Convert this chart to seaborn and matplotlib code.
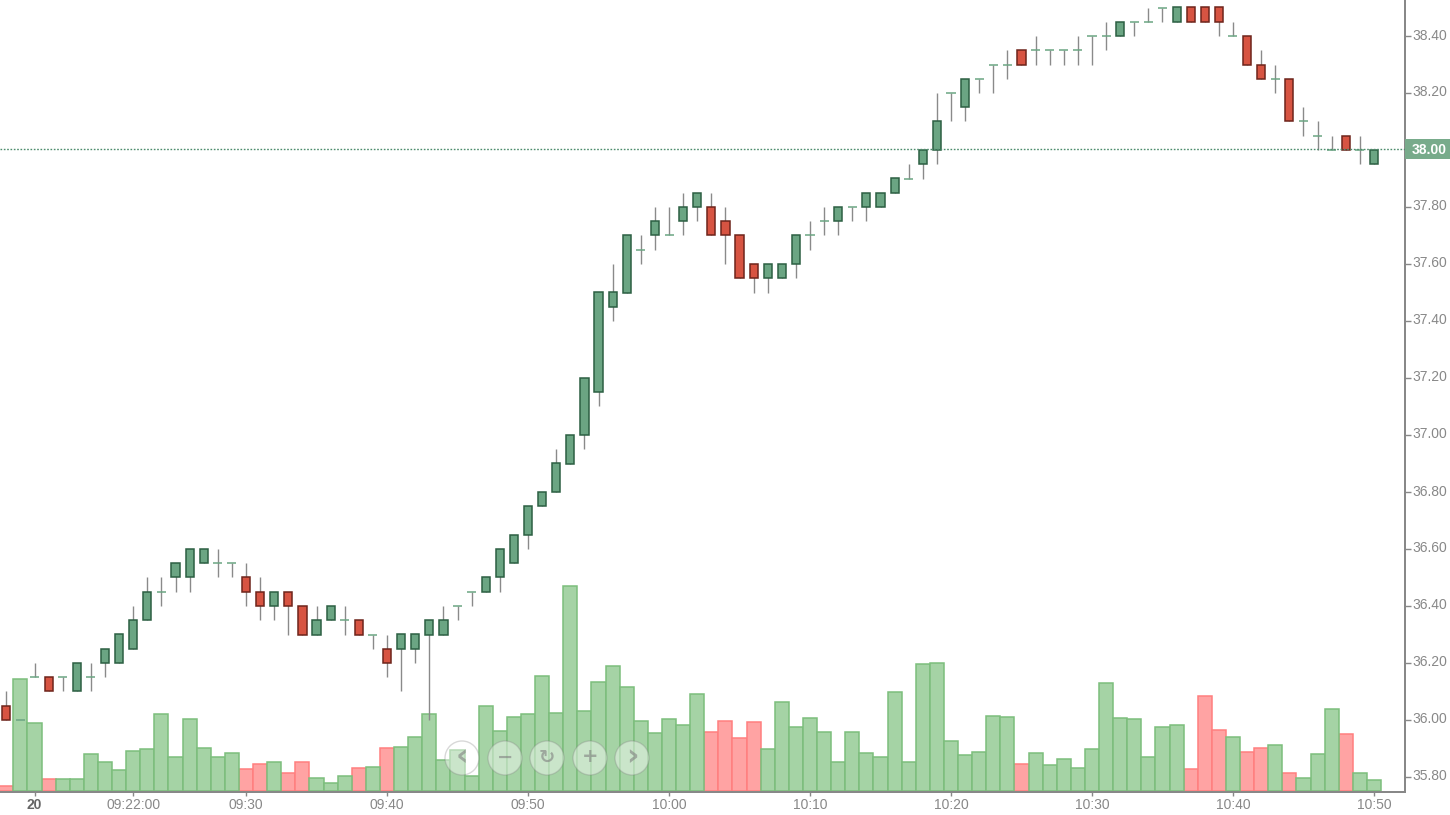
import matplotlib
matplotlib.use("Agg")
import matplotlib.pyplot as plt
from matplotlib.patches import Circle, Rectangle
from matplotlib.transforms import ScaledTranslation
import numpy as np
import pandas as pd
import seaborn as sns

# minutes since 09:00, one bar per minute (09:13 - 10:50)
minutes = np.arange(13, 111)

opens = [36.05, 36.00, 36.15, 36.15, 36.15, 36.10, 36.15, 36.20, 36.20, 36.25,
         36.35, 36.45, 36.50, 36.50, 36.55, 36.55, 36.55, 36.50, 36.45, 36.40,
         36.45, 36.40, 36.30, 36.35, 36.35, 36.35, 36.30, 36.25, 36.25, 36.25,
         36.30, 36.30, 36.40, 36.45, 36.45, 36.50, 36.55, 36.65, 36.75, 36.80,
         36.90, 37.00, 37.15, 37.45, 37.50, 37.65, 37.70, 37.70, 37.75, 37.80,
         37.80, 37.75, 37.70, 37.60, 37.55, 37.55, 37.60, 37.70, 37.75, 37.75,
         37.80, 37.80, 37.80, 37.85, 37.90, 37.95, 38.00, 38.20, 38.15, 38.25,
         38.30, 38.30, 38.35, 38.35, 38.35, 38.35, 38.35, 38.40, 38.40, 38.40,
         38.45, 38.45, 38.50, 38.45, 38.50, 38.50, 38.50, 38.40, 38.40, 38.30,
         38.25, 38.25, 38.10, 38.05, 38.00, 38.05, 38.00, 37.95]
highs = [36.10, 36.00, 36.20, 36.15, 36.15, 36.20, 36.20, 36.25, 36.30, 36.40,
         36.50, 36.50, 36.55, 36.60, 36.60, 36.60, 36.55, 36.55, 36.50, 36.45,
         36.45, 36.40, 36.40, 36.40, 36.40, 36.35, 36.30, 36.30, 36.30, 36.30,
         36.35, 36.40, 36.40, 36.45, 36.50, 36.60, 36.65, 36.75, 36.80, 36.95,
         37.00, 37.20, 37.50, 37.60, 37.70, 37.70, 37.80, 37.80, 37.85, 37.85,
         37.85, 37.80, 37.70, 37.60, 37.60, 37.60, 37.70, 37.75, 37.80, 37.80,
         37.80, 37.85, 37.85, 37.90, 37.95, 38.00, 38.20, 38.20, 38.25, 38.25,
         38.30, 38.35, 38.35, 38.40, 38.35, 38.35, 38.40, 38.40, 38.45, 38.45,
         38.45, 38.50, 38.50, 38.50, 38.50, 38.50, 38.50, 38.45, 38.40, 38.35,
         38.30, 38.25, 38.15, 38.10, 38.05, 38.05, 38.05, 38.00]
lows = [36.00, 36.00, 36.15, 36.10, 36.10, 36.10, 36.10, 36.15, 36.20, 36.25,
        36.35, 36.40, 36.45, 36.45, 36.55, 36.50, 36.50, 36.40, 36.35, 36.35,
        36.30, 36.30, 36.30, 36.35, 36.30, 36.30, 36.25, 36.15, 36.10, 36.20,
        36.00, 36.30, 36.35, 36.40, 36.45, 36.45, 36.55, 36.60, 36.75, 36.80,
        36.90, 36.95, 37.10, 37.40, 37.50, 37.60, 37.65, 37.70, 37.70, 37.75,
        37.70, 37.60, 37.55, 37.50, 37.50, 37.55, 37.55, 37.65, 37.70, 37.70,
        37.75, 37.75, 37.80, 37.85, 37.90, 37.90, 37.95, 38.10, 38.10, 38.20,
        38.20, 38.25, 38.30, 38.30, 38.30, 38.30, 38.30, 38.30, 38.35, 38.40,
        38.40, 38.45, 38.45, 38.45, 38.45, 38.45, 38.40, 38.40, 38.30, 38.25,
        38.20, 38.10, 38.05, 38.00, 38.00, 38.00, 37.95, 37.95]
closes = [36.00, 36.00, 36.15, 36.10, 36.15, 36.20, 36.15, 36.25, 36.30, 36.35,
          36.45, 36.45, 36.55, 36.60, 36.60, 36.55, 36.55, 36.45, 36.40, 36.45,
          36.40, 36.30, 36.35, 36.40, 36.35, 36.30, 36.30, 36.20, 36.30, 36.30,
          36.35, 36.35, 36.40, 36.45, 36.50, 36.60, 36.65, 36.75, 36.80, 36.90,
          37.00, 37.20, 37.50, 37.50, 37.70, 37.65, 37.75, 37.70, 37.80, 37.85,
          37.70, 37.70, 37.55, 37.55, 37.60, 37.60, 37.70, 37.70, 37.75, 37.80,
          37.80, 37.85, 37.85, 37.90, 37.90, 38.00, 38.10, 38.20, 38.25, 38.25,
          38.30, 38.30, 38.30, 38.35, 38.35, 38.35, 38.35, 38.40, 38.40, 38.45,
          38.45, 38.45, 38.50, 38.50, 38.45, 38.45, 38.45, 38.40, 38.30, 38.25,
          38.25, 38.10, 38.10, 38.05, 38.00, 38.00, 38.00, 38.00]
volumes = [5, 112, 68, 12, 12, 12, 37, 29, 21, 40,
           42, 77, 34, 72, 43, 34, 38, 22, 27, 29,
           18, 29, 13, 8, 15, 23, 24, 43, 44, 54,
           77, 31, 41, 15, 85, 60, 74, 77, 115, 78,
           205, 80, 109, 125, 104, 70, 58, 72, 66, 97,
           59, 70, 53, 69, 42, 89, 64, 73, 59, 29,
           59, 38, 34, 99, 29, 127, 128, 50, 36, 39,
           75, 74, 27, 38, 26, 32, 23, 42, 108, 73,
           72, 34, 64, 66, 22, 95, 61, 54, 39, 43,
           46, 18, 13, 37, 82, 57, 18, 11]

last_price = 38.00
price_ticks = [35.80, 36.00, 36.20, 36.40, 36.60, 36.80, 37.00, 37.20,
               37.40, 37.60, 37.80, 38.00, 38.20, 38.40]
time_ticks = [15, 22, 30, 40, 50, 60, 70, 80, 90, 100, 110]
time_labels = ["20", "09:22:00", "09:30", "09:40", "09:50", "10:00",
               "10:10", "10:20", "10:30", "10:40", "10:50"]
nav_glyphs = ["\u2039", "\u2212", "\u21bb", "+", "\u203a"]

UP, UP_EDGE = "#6ba583", "#2c5f43"
DOWN, DOWN_EDGE = "#d75442", "#6e241b"

sns.set_theme(style="white")
plt.rcParams["font.family"] = ["Liberation Sans", "DejaVu Sans"]

W, H = 1450, 815
fig = plt.figure(figsize=(W / 100, H / 100), dpi=100)
# plot area runs to x=1405, y=792 in pixels
ax_vol = fig.add_axes([0, 1 - 792 / H, 1405 / W, 792 / H])
ax = ax_vol.twinx()
ax_vol.set_zorder(1)
ax.set_zorder(2)
ax.patch.set_visible(False)

df = pd.DataFrame({"minute": minutes, "open": opens, "high": highs, "low": lows,
                   "close": closes, "volume": volumes})
df["side"] = np.where(df["close"] >= df["open"], "up", "down")

# volume, hue only colours the fill so edges go on afterwards
sns.barplot(data=df, x="minute", y="volume", hue="side", native_scale=True,
            palette={"up": "#a5d3a5", "down": "#ffa3a3"}, dodge=False, width=1,
            saturation=1, legend=False, ax=ax_vol, linewidth=0)
for c in ax_vol.containers:
    for p in c:
        up = p.get_facecolor()[1] > 0.75
        p.set_edgecolor("#7cbe7c" if up else "#ff7f7f")
        p.set_linewidth(1.1)

ax_vol.set_xlim(12.55, 112.2)
ax_vol.set_ylim(-1.5, 790.5)
ax_vol.set_yticks([])
ax_vol.set_xlabel("")
ax_vol.set_ylabel("")

# candles
doji = df["open"] == df["close"]
ax.vlines(df["minute"], df["low"], df["high"], color="#8a8a8a", lw=1.0, zorder=2)
body = df[~doji]
ax.bar(body["minute"], (body["close"] - body["open"]).abs(),
       bottom=body[["open", "close"]].min(axis=1), width=0.58,
       color=[UP if s == "up" else DOWN for s in body["side"]],
       edgecolor=[UP_EDGE if s == "up" else DOWN_EDGE for s in body["side"]],
       lw=1.1, zorder=3)
flat = df[doji]
ax.hlines(flat["close"], flat["minute"] - 0.32, flat["minute"] + 0.32,
          color=UP, lw=1.1, zorder=3)

ax.set_xlim(12.55, 112.2)
ax.set_ylim(38.4 - 756 / 285, 38.4 + 36 / 285)

# guide line and labels sit a pixel or two above the candles' price in the original
up_1px = ScaledTranslation(0, 1 / 100, fig.dpi_scale_trans)
up_2px = ScaledTranslation(0, 2 / 100, fig.dpi_scale_trans)
tag_trans = ax.get_yaxis_transform() + up_1px
ax.plot([0, 1], [last_price, last_price], color="#4c8c6c", lw=1.0, ls=(0, (1.2, 1.2)),
        zorder=4, transform=tag_trans)

ax.set_yticks(price_ticks)
ax.set_yticklabels(["" if v == last_price else f"{v:.2f}" for v in price_ticks])
ax.tick_params(axis="y", right=True, left=False, length=4, width=1, color="#888888",
               labelsize=10, labelcolor="#888888", pad=1)
for t in ax.get_yticklabels():
    t.set_transform(t.get_transform() + up_2px)
ax_vol.set_xticks(time_ticks)
ax_vol.set_xticklabels(time_labels)
ax_vol.tick_params(axis="x", bottom=True, length=3, width=1, color="#888888",
                   labelsize=10, labelcolor="#888888", pad=1)
lab = ax_vol.get_xticklabels()[0]
lab.set_fontweight("bold")
lab.set_color("#666666")

for a in (ax, ax_vol):
    for side in ("top", "left"):
        a.spines[side].set_visible(False)
    for side in ("right", "bottom"):
        a.spines[side].set_color("#888888")
        a.spines[side].set_linewidth(1.4)

# last price tag sits outside the axes on the right
ax.add_patch(Rectangle((1.0, last_price - 10 / 285), 45 / 1405, 20 / 285, transform=tag_trans,
                       facecolor="#78ab8b", edgecolor="none", clip_on=False, zorder=5))
ax.text(1 + 24 / 1405, last_price, f"{last_price:.2f}", transform=tag_trans, color="white",
        fontsize=10, fontweight="bold", ha="center", va="center_baseline", zorder=6, clip_on=False)

# zoom / pan buttons drawn over everything, in pixel coords
overlay = fig.add_axes([0, 0, 1, 1], zorder=10)
overlay.set_xlim(0, W)
overlay.set_ylim(H, 0)
overlay.axis("off")
for cx, glyph in zip([462, 505, 547, 590, 632], nav_glyphs):
    overlay.add_patch(Circle((cx, 758), 17, facecolor=(1, 1, 1, 0.42), edgecolor=(0.5, 0.5, 0.5, 0.3), lw=1))
    size = 22 if glyph in nav_glyphs[::4] else 14
    overlay.text(cx, 757, glyph, ha="center", va="center", fontsize=size, fontweight="bold",
                 color="#808080", alpha=0.6, family=["DejaVu Sans"])

fig.savefig("out.png", dpi=100)
